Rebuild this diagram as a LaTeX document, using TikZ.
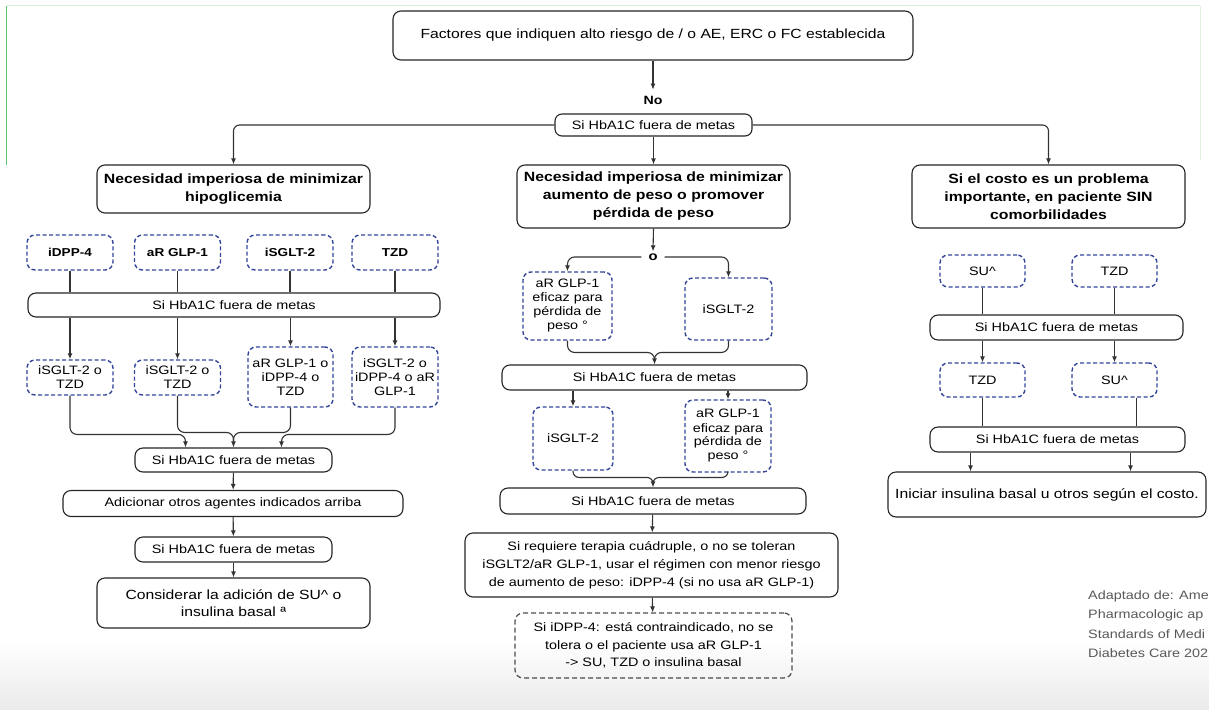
\documentclass[tikz,border=0pt]{standalone}
\usepackage{fontspec}
\setmainfont[FakeStretch=1.18]{Liberation Sans}
\usetikzlibrary{arrows.meta}
\definecolor{dblue}{HTML}{34469A}
\definecolor{lgreen}{HTML}{5CC46C}
\newcommand\myfN{\fontsize{12.2}{14}\selectfont}
\newcommand\myfB{\bfseries\fontsize{13.4}{18}\selectfont}
\newcommand\myfL{\fontsize{13.3}{17}\selectfont}
\newcommand\myfS{\bfseries\fontsize{11.5}{14}\selectfont}
\begin{document}
\begin{tikzpicture}[x=1pt,y=-1pt,
 box/.style={draw=black!85,line width=1.1pt,rounded corners=8pt,align=center,inner sep=0pt},
 dbox/.style={draw=dblue,line width=1.4pt,dash pattern=on 4pt off 2.5pt,rounded corners=8pt,align=center,inner sep=0pt},
 gbox/.style={draw=black!70,line width=1.2pt,dash pattern=on 5pt off 3pt,rounded corners=8pt,align=center,inner sep=0pt},
 conn/.style={draw=black!80,line width=1.1pt},
 arr/.style={conn,-{Latex[length=6pt,width=5pt]}}]
\useasboundingbox (0,0) rectangle (1209,709);
\fill[white] (0,0) rectangle (1209,709);
\shade[top color=white,bottom color=black!8] (0,640) rectangle (1209,709);
\draw[lgreen,line width=1.2pt] (6.5,6) -- (6.5,165);
\draw[lgreen!25,line width=1pt] (6.5,6) -- (1200,6);
\draw[lgreen!20,line width=1pt] (1200,6) -- (1200,160);

% top
\node[box,minimum width=520,minimum height=49,font=\myfL] (top) at (653,35.5) {Factores que indiquen alto riesgo de / o AE, ERC o FC establecida};
\node[font=\bfseries\fontsize{12}{14}\selectfont,inner sep=2pt] (no) at (653,100) {No};
\node[box,minimum width=197,minimum height=22,rounded corners=7pt,font=\myfN] (h0) at (653.5,125) {Si HbA1C fuera de metas};
\draw[arr] (top.south) -- ([yshift=4pt]no.north);

% headings
\node[box,minimum width=273,minimum height=48,font=\myfB] (L) at (233.5,189) {Necesidad imperiosa de minimizar\\hipoglicemia};
\node[box,minimum width=273,minimum height=63,font=\myfB] (M) at (653.5,196.5) {Necesidad imperiosa de minimizar\\aumento de peso o promover\\pérdida de peso};
\node[box,minimum width=273,minimum height=63,font=\myfB] (R) at (1048.5,196.5) {Si el costo es un problema\\importante, en paciente SIN\\comorbilidades};
\draw[arr,rounded corners=6] (h0.west) -| (L.north);
\draw[arr] (h0.south) -- (M.north);
\draw[arr,rounded corners=6] (h0.east) -| (R.north);

% left column
\node[dbox,minimum width=86,minimum height=35,font=\myfS] (a1) at (70,252.5) {iDPP-4};
\node[dbox,minimum width=86,minimum height=35,font=\myfS] (a2) at (177.5,252.5) {aR GLP-1};
\node[dbox,minimum width=86,minimum height=35,font=\myfS] (a3) at (290,252.5) {iSGLT-2};
\node[dbox,minimum width=86,minimum height=35,font=\myfS] (a4) at (395,252.5) {TZD};
\node[box,minimum width=412,minimum height=24,font=\myfN] (h1) at (234,305) {Si HbA1C fuera de metas};
\foreach \n in {a1,a2,a3,a4} \draw[conn] (\n.south) -- (\n.south |- h1.north);
\node[dbox,minimum width=86,minimum height=35,font=\myfN] (b1) at (70,377.5) {iSGLT-2 o\\TZD};
\node[dbox,minimum width=86,minimum height=35,font=\myfN] (b2) at (177.5,377.5) {iSGLT-2 o\\TZD};
\node[dbox,minimum width=85,minimum height=60,font=\myfN] (b3) at (290.5,377) {aR GLP-1 o\\iDPP-4 o\\TZD};
\node[dbox,minimum width=86,minimum height=60,font=\myfN] (b4) at (395,377) {iSGLT-2 o\\iDPP-4 o aR\\GLP-1};
\foreach \n in {b1,b2,b3,b4} \draw[arr] (h1.south -| \n.north) -- (\n.north);
\node[box,minimum width=197,minimum height=24,font=\myfN] (s2) at (233.5,460) {Si HbA1C fuera de metas};
\node[box,minimum width=340,minimum height=26,font=\myfN] (ad) at (233,503.5) {Adicionar otros agentes indicados arriba};
\node[box,minimum width=197,minimum height=25,font=\myfN] (s3) at (233.5,549.5) {Si HbA1C fuera de metas};
\node[box,minimum width=273,minimum height=50,font=\myfL] (co) at (233.5,603) {Considerar la adición de SU\textasciicircum{} o\\insulina basal ª};
\draw[arr,rounded corners=7] (b1.south) |- ([xshift=-48pt,yshift=13pt]s2.north) -- ([xshift=-48pt]s2.north);
\draw[arr,rounded corners=7] (b2.south) |- ([yshift=15pt]s2.north) -- (s2.north);
\draw[conn,rounded corners=7] (b3.south) |- ([yshift=15pt]s2.north) -- ([yshift=5pt]s2.north);
\draw[arr,rounded corners=7] (b4.south) |- ([xshift=48pt,yshift=13pt]s2.north) -- ([xshift=48pt]s2.north);
\draw[arr] (s2) -- (ad);
\draw[arr] (ad) -- (s3);
\draw[arr] (s3) -- (co);

% middle column
\node[font=\bfseries\fontsize{12.5}{14}\selectfont,inner sep=2pt] (o) at (653,257) {o};
\draw[arr] (M.south) -- (o.north);
\node[dbox,minimum width=89,minimum height=68,font=\myfN] (c1) at (567.5,306) {aR GLP-1\\eficaz para\\pérdida de\\peso °};
\node[dbox,minimum width=87,minimum height=62,font=\myfN] (c2) at (728.5,309) {iSGLT-2};
\draw[arr,rounded corners=7] ([xshift=-5pt]o.west) -| (c1.north);
\draw[arr,rounded corners=7] ([xshift=5pt]o.east) -| (c2.north);
\node[box,minimum width=305,minimum height=25,font=\myfN] (h2) at (654.5,377.5) {Si HbA1C fuera de metas};
\draw[arr,rounded corners=7] (c1.south) |- ([yshift=12pt]h2.north) -- (h2.north);
\draw[conn,rounded corners=7] (c2.south) |- ([yshift=12pt]h2.north) -- ([yshift=5pt]h2.north);
\node[dbox,minimum width=80,minimum height=63,font=\myfN] (d1) at (573,438.5) {iSGLT-2};
\node[dbox,minimum width=86,minimum height=72,font=\myfN] (d2) at (728,436) {aR GLP-1\\eficaz para\\pérdida de\\peso °};
\draw[arr] (h2.south -| d1.north) -- (d1.north);
\draw[arr] (h2.south -| d2.north) -- (d2.north);
\node[box,minimum width=306,minimum height=26,font=\myfN] (h3) at (653,501) {Si HbA1C fuera de metas};
\draw[arr,rounded corners=6] (d1.south) |- ([yshift=10pt]h3.north) -- (h3.north);
\draw[conn,rounded corners=6] (d2.south) |- ([yshift=10pt]h3.north) -- ([yshift=5pt]h3.north);
\node[box,minimum width=373,minimum height=64,font=\fontsize{12.2}{18}\selectfont] (bg) at (651.5,565) {Si requiere terapia cuádruple, o no se toleran\\iSGLT2/aR GLP-1, usar el régimen con menor riesgo\\de aumento de peso: iDPP-4 (si no usa aR GLP-1)};
\draw[arr] (h3) -- (bg);
\node[gbox,minimum width=277,minimum height=65,font=\fontsize{12.2}{17.5}\selectfont] (gb) at (653.5,645.5) {Si iDPP-4: está contraindicado, no se\\tolera o el paciente usa aR GLP-1\\-> SU, TZD o insulina basal};
\draw[arr] (bg) -- (gb);

% right column
\node[dbox,minimum width=85,minimum height=32,font=\myfN] (e1) at (982.5,271) {SU\textasciicircum};
\node[dbox,minimum width=85,minimum height=32,font=\myfN] (e2) at (1114.5,271) {TZD};
\node[box,minimum width=253,minimum height=25,font=\myfN] (h4) at (1056.5,327.5) {Si HbA1C fuera de metas};
\draw[conn] (e1.south) -- (e1.south |- h4.north);
\draw[conn] (e2.south) -- (e2.south |- h4.north);
\node[dbox,minimum width=85,minimum height=34,font=\myfN] (f1) at (982.5,380) {TZD};
\node[dbox,minimum width=85,minimum height=34,font=\myfN] (f2) at (1114.5,380) {SU\textasciicircum};
\draw[arr] (h4.south -| f1.north) -- (f1.north);
\draw[arr] (h4.south -| f2.north) -- (f2.north);
\node[box,minimum width=255,minimum height=25,font=\myfN] (h5) at (1057.5,439.5) {Si HbA1C fuera de metas};
\draw[conn] (f1.south) -- (f1.south |- h5.north);
\draw[conn] ([xshift=22pt]f2.south) -- ([xshift=22pt]f2.south |- h5.north);
\node[box,minimum width=318,minimum height=45,font=\myfL] (ini) at (1047,494.5) {Iniciar insulina basal u otros según el costo.};
\draw[arr] ([xshift=-87pt]h5.south) -- ([xshift=-87pt]h5.south |- ini.north);
\draw[arr] ([xshift=73pt]h5.south) -- ([xshift=73pt]h5.south |- ini.north);

% citation
\node[anchor=north west,align=left,text=black!65,font=\fontsize{12.2}{19.5}\selectfont,inner sep=0pt] (cit) at (1088,590) {Adaptado de: Ame\\Pharmacologic ap\\Standards of Medi\\Diabetes Care 202};
\end{tikzpicture}
\end{document}
